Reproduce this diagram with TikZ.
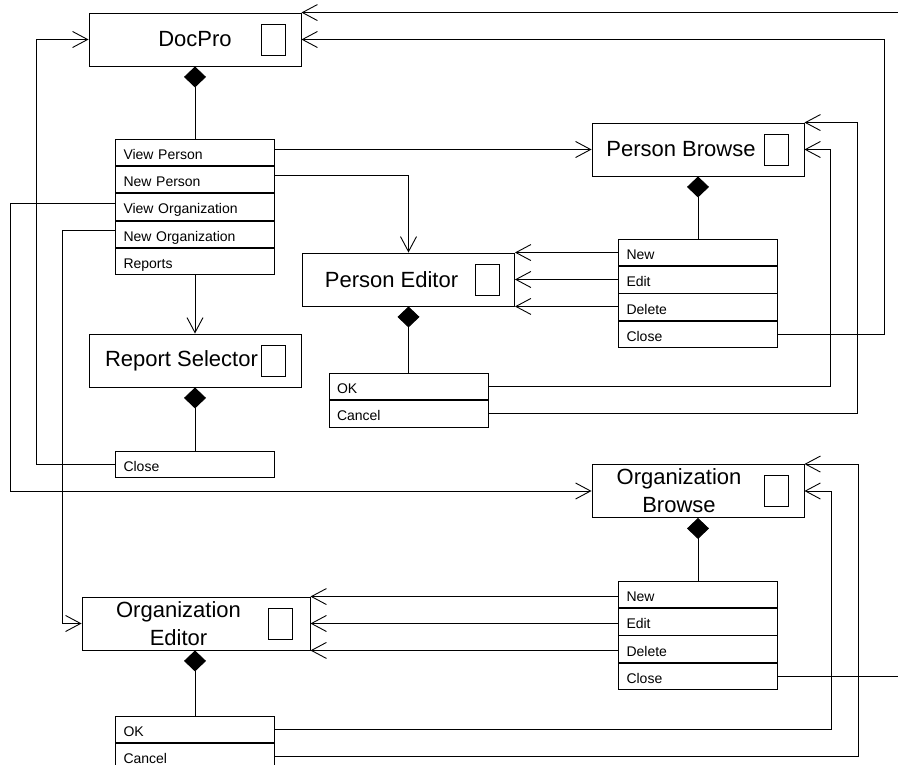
\documentclass[tikz,border=0pt]{standalone}
\usepackage{fontspec}
\setmainfont{Liberation Sans}
\usetikzlibrary{arrows.meta,positioning}
\tikzset{
  win/.style={rectangle,draw,minimum width=212pt,minimum height=53pt,inner sep=0pt},
  wintitle/.style={font=\fontsize{22}{28}\selectfont,align=center,inner sep=0pt},
  icon/.style={rectangle,draw,minimum width=24pt,minimum height=31pt,inner sep=0pt},
  % menu entries stacked under each window
  menuitem/.style={rectangle,draw,text width=143pt,inner xsep=8pt,inner ysep=0pt,
    minimum height=26.3pt,text height=14pt,text depth=0pt,align=left,
    font=\fontsize{14}{16}\selectfont},
  arr/.style={-{Straight Barb[length=15pt,width=16pt]}},
  part/.style={-{Diamond[length=21pt,width=22pt]}}
}
\begin{document}
\begin{tikzpicture}[x=1pt,y=-1pt,line width=0.9pt,node distance=0pt]
  \clip (0,0) rectangle (898,765);

  % windows
  \node[win] (docpro) at (195,39.5) {};
  \node[wintitle] (docprotitle) at (docpro) {DocPro};
  \node[icon] (docproicon) at ([xshift=-28pt]docpro.east) {};

  \node[win] (reportsel) at (195,360.5) {};
  \node[wintitle] (reportseltitle) at ([xshift=-13.5pt]reportsel) {Report Selector};
  \node[icon] (reportselicon) at ([xshift=-28pt]reportsel.east) {};

  \node[win] (perbrowse) at (698,149.5) {};
  \node[wintitle] (perbrowsetitle) at ([xshift=-17pt]perbrowse) {Person Browse};
  \node[icon] (perbrowseicon) at ([xshift=-28pt]perbrowse.east) {};

  \node[win] (pereditor) at (408.5,279.5) {};
  \node[wintitle] (pereditortitle) at ([xshift=-17pt]pereditor) {Person Editor};
  \node[icon] (pereditoricon) at ([xshift=-28pt]pereditor.east) {};

  \node[win] (orgbrowse) at (698,491) {};
  \node[wintitle] (orgbrowsetitle) at ([xshift=-19pt]orgbrowse) {Organization\\Browse};
  \node[icon] (orgbrowseicon) at ([xshift=-28pt]orgbrowse.east) {};

  \node[win,minimum width=228pt] (orgeditor) at (196,623.5) {};
  \node[wintitle] (orgeditortitle) at ([xshift=-17.5pt]orgeditor) {Organization\\Editor};
  \node[icon] (orgeditoricon) at ([xshift=-30pt]orgeditor.east) {};

  % menus
  \node[menuitem,anchor=north] (dpviewper) at (195,139) {View Person};
  \node[menuitem,below=of dpviewper] (dpnewper) {New Person};
  \node[menuitem,below=of dpnewper] (dpvieworg) {View Organization};
  \node[menuitem,below=of dpvieworg] (dpneworg) {New Organization};
  \node[menuitem,below=of dpneworg] (dpreports) {Reports};

  \node[menuitem,anchor=north] (rsclose) at (195,451) {Close};

  \node[menuitem,anchor=north] (pbnew) at (698,239) {New};
  \node[menuitem,below=of pbnew] (pbedit) {Edit};
  \node[menuitem,below=of pbedit] (pbdelete) {Delete};
  \node[menuitem,below=of pbdelete] (pbclose) {Close};

  \node[menuitem,anchor=north] (peok) at (408.5,373) {OK};
  \node[menuitem,below=of peok] (pecancel) {Cancel};

  \node[menuitem,anchor=north] (obnew) at (698,581) {New};
  \node[menuitem,below=of obnew] (obedit) {Edit};
  \node[menuitem,below=of obedit] (obdelete) {Delete};
  \node[menuitem,below=of obdelete] (obclose) {Close};

  \node[menuitem,anchor=north] (oeok) at (195,716) {OK};
  \node[menuitem,below=of oeok] (oecancel) {Cancel};

  % composition
  \draw[part] (dpviewper.north) -- (docpro.south);
  \draw[part] (rsclose.north) -- (reportsel.south);
  \draw[part] (pbnew.north) -- (perbrowse.south);
  \draw[part] (peok.north) -- (pereditor.south);
  \draw[part] (obnew.north) -- (orgbrowse.south);
  \draw[part] (oeok.north) -- (oeok.north |- orgeditor.south);

  % navigation
  \draw[arr] (dpviewper.east |- perbrowse.west) -- (perbrowse.west);
  \draw[arr] ([yshift=4pt]dpnewper.east) -| (pereditor.north);
  \draw[arr] ([yshift=4pt]dpvieworg.west) -- ++(-105,0) |- (orgbrowse.west);
  \draw[arr] ([yshift=4pt]dpneworg.west) -- ++(-53,0) |- (orgeditor.west);
  \draw[arr] (dpreports.south) -- (reportsel.north);
  \draw[arr] (rsclose.west) -- ++(-79,0) |- (docpro.west);

  \draw[arr] (pbnew.west |- pereditor.north east) -- (pereditor.north east);
  \draw[arr] (pbedit.west |- pereditor.east) -- (pereditor.east);
  \draw[arr] (pbdelete.west |- pereditor.south east) -- (pereditor.south east);
  \draw[arr] (pbclose.east) -- ++(106,0) |- (docpro.east);
  \draw[arr] (peok.east) -- ++(342,0) |- (perbrowse.east);
  \draw[arr] (pecancel.east) -- ++(369,0) |- (perbrowse.north east);

  \draw[arr] (obnew.west |- orgeditor.north east) -- (orgeditor.north east);
  \draw[arr] (obedit.west |- orgeditor.east) -- (orgeditor.east);
  \draw[arr] (obdelete.west |- orgeditor.south east) -- (orgeditor.south east);
  \draw[arr] (obclose.east) -- ++(140,0) |- (docpro.north east);
  \draw[arr] (oeok.east) -- ++(556,0) |- (orgbrowse.east);
  \draw[arr] (oecancel.east) -- ++(583,0) |- (orgbrowse.north east);
\end{tikzpicture}
\end{document}
